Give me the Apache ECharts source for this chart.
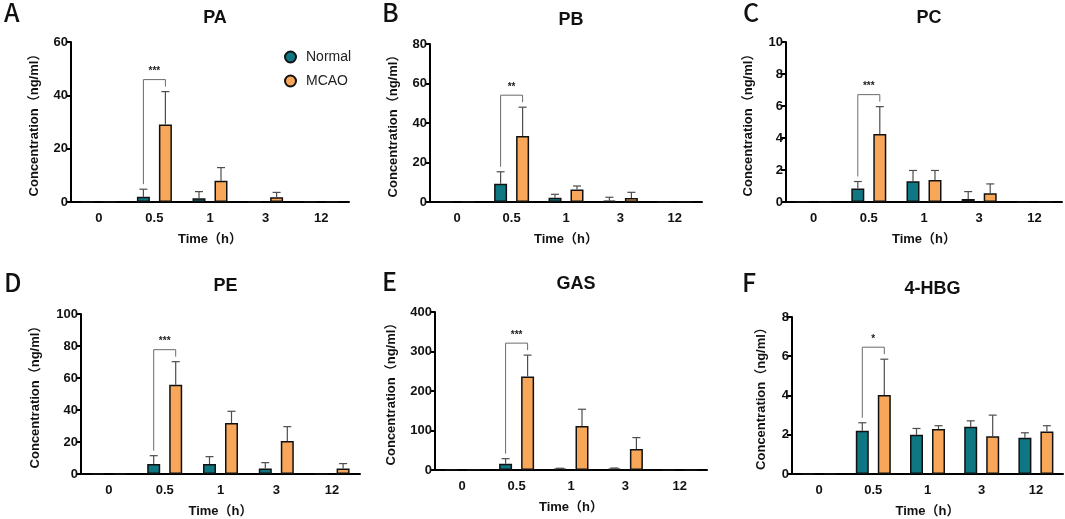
<!DOCTYPE html>
<html>
<head>
<meta charset="utf-8">
<script src="https://cdn.jsdelivr.net/npm/echarts@6/dist/echarts.min.js"></script>
<style>
  html, body { margin: 0; padding: 0; background: #fff; }
  #main { width: 1065px; height: 519px; }
</style>
</head>
<body>
<div id="main"></div>
<script>
var myChart = echarts.init(document.getElementById('main'));

// 时间点
var times = ['0', '0.5', '1', '3', '12'];

// 各成分: 均值 / 误差 (Normal, MCAO)
var paNormal = [0, 2.0, 1.4, 0, 0];
var paNormalSd = [0, 2.8, 2.5, 0, 0];
var paMcao = [0, 29.1, 8.0, 1.8, 0];
var paMcaoSd = [0, 12.3, 4.9, 1.8, 0];

var pbNormal = [0, 9.3, 2.2, 0.7, 0];
var pbNormalSd = [0, 6.0, 1.7, 1.7, 0];
var pbMcao = [0, 33.4, 6.3, 2.0, 0];
var pbMcaoSd = [0, 14.6, 1.8, 2.9, 0];

var pcNormal = [0, 0.84, 1.3, 0.19, 0];
var pcNormalSd = [0, 0.44, 0.67, 0.46, 0];
var pcMcao = [0, 4.25, 1.38, 0.54, 0];
var pcMcaoSd = [0, 1.71, 0.59, 0.59, 0];

var peNormal = [0, 6.25, 6.25, 3.5, 0];
var peNormalSd = [0, 5.2, 4.6, 3.6, 0];
var peMcao = [0, 55.8, 31.9, 20.6, 3.5];
var peMcaoSd = [0, 14.4, 7.3, 9.0, 3.0];

var gasNormal = [1.5, 16, 3.4, 3.4, 0];
var gasNormalSd = [0, 12.7, 1.0, 1.6, 0];
var gasMcao = [0.8, 236.7, 111.6, 53.3, 0];
var gasMcaoSd = [0, 54.1, 42.2, 28.7, 0];

var hbgNormal = [0, 2.2, 2.0, 2.41, 1.85];
var hbgNormalSd = [0, 0.41, 0.32, 0.3, 0.25];
var hbgMcao = [0, 4.02, 2.29, 1.92, 2.17];
var hbgMcaoSd = [0, 1.83, 0.17, 1.08, 0.29];

// 标题、坐标轴范围、显著性标记
var titles = ['PA', 'PB', 'PC', 'PE', 'GAS', '4-HBG'];
var letters = ['A', 'B', 'C', 'D', 'E', 'F'];
var yMax = [60, 80, 10, 100, 400, 8];
var yStep = [20, 20, 2, 20, 100, 2];
var stars = ['***', '**', '***', '***', '***', '*'];

var normalSets = [paNormal, pbNormal, pcNormal, peNormal, gasNormal, hbgNormal];
var normalSds = [paNormalSd, pbNormalSd, pcNormalSd, peNormalSd, gasNormalSd, hbgNormalSd];
var mcaoSets = [paMcao, pbMcao, pcMcao, peMcao, gasMcao, hbgMcao];
var mcaoSds = [paMcaoSd, pbMcaoSd, pcMcaoSd, peMcaoSd, gasMcaoSd, hbgMcaoSd];

// 布局
var panels = [
    { left: 71, top: 42, width: 278, height: 160, nameGap: 30, lx: 11, ly: 15 },
    { left: 430, top: 44, width: 272, height: 158, nameGap: 30, lx: 389, ly: 15 },
    { left: 786, top: 42, width: 276, height: 160, nameGap: 31, lx: 750, ly: 15 },
    { left: 81, top: 314, width: 279, height: 160, nameGap: 39, lx: 11, ly: 285 },
    { left: 435, top: 312, width: 272, height: 158, nameGap: 37, lx: 389, ly: 284 },
    { left: 792, top: 317, width: 271, height: 157, nameGap: 24, lx: 749, ly: 285 }
];

var FONT = '"Liberation Sans", Arial, "Noto Sans CJK SC", sans-serif';
var NORMAL_COLOR = '#0f7782';
var MCAO_COLOR = '#f7a65a';
var BAR_W = 13;
var BAR_GAP = 9;
var OFF = (BAR_W + BAR_GAP) / 2;

var grids = [], xAxes = [], yAxes = [], series = [], titleList = [], graphics = [];

function errorRender(params, api) {
    var sd = api.value(2);
    if (!sd) return;
    var dir = api.value(3) === 0 ? -1 : 1;
    var base = api.coord([api.value(0), api.value(1)]);
    var top = api.coord([api.value(0), api.value(1) + sd]);
    var x = base[0] + dir * OFF;
    var st = { stroke: '#4d4d4d', lineWidth: 1.2, fill: 'none' };
    return {
        type: 'group',
        children: [
            { type: 'line', shape: { x1: x, y1: base[1], x2: x, y2: top[1] }, style: st },
            { type: 'line', shape: { x1: x - 4, y1: top[1], x2: x + 4, y2: top[1] }, style: st }
        ]
    };
}

// 显著性括号
function makeBracket(mark) {
    return function (params, api) {
        var c = api.value(0);
        var left = api.coord([c, api.value(1)]);
        var right = api.coord([c, api.value(2)]);
        var xl = left[0] - OFF, xr = right[0] + OFF;
        var yl = left[1] - 5, yr = right[1] - 5;
        var yt = right[1] - 12;
        var st = { stroke: '#6b6b6b', lineWidth: 1, fill: 'none' };
        return {
            type: 'group',
            children: [
                { type: 'polyline', shape: { points: [[xl, yl], [xl, yt], [xr, yt], [xr, yr]] }, style: st },
                { type: 'text', x: left[0], y: yt - 3, style: {
                    text: mark, fill: '#222', font: 'bold 10px ' + FONT,
                    align: 'center', verticalAlign: 'bottom' } }
            ]
        };
    };
}

panels.forEach(function (p, i) {
    grids.push({ left: p.left, top: p.top, width: p.width, height: p.height });
    xAxes.push({
        type: 'category', gridIndex: i, data: times,
        name: 'Time（h）', nameLocation: 'middle', nameGap: 31,
        nameTextStyle: { fontFamily: FONT, fontWeight: 'bold', fontSize: 13, color: '#111' },
        axisLine: { lineStyle: { color: '#000', width: 2 } },
        axisTick: { alignWithLabel: true, length: 5, lineStyle: { color: '#000', width: 2 } },
        axisLabel: { fontFamily: FONT, fontWeight: 'bold', fontSize: 13, color: '#111', margin: 10 }
    });
    yAxes.push({
        type: 'value', gridIndex: i, min: 0, max: yMax[i], interval: yStep[i],
        name: 'Concentration（ng/ml）', nameLocation: 'middle', nameGap: p.nameGap,
        nameTextStyle: { fontFamily: FONT, fontWeight: 'bold', fontSize: 13, color: '#111' },
        axisLine: { show: true, lineStyle: { color: '#000', width: 2 } },
        axisTick: { show: true, length: 5, lineStyle: { color: '#000', width: 2 } },
        axisLabel: { fontFamily: FONT, fontWeight: 'bold', fontSize: 13, color: '#111', margin: 3 },
        splitLine: { show: false }
    });
    titleList.push({
        text: titles[i], left: p.left + p.width / 2, top: p.top - (i < 3 ? 38 : 42), textAlign: 'center',
        textStyle: { fontFamily: FONT, fontWeight: 'bold', fontSize: 18, color: '#111' }
    });
    graphics.push({
        type: 'text', left: p.lx - 7, top: p.ly - 15,
        style: { text: letters[i], font: '500 25px "Noto Sans CJK SC", sans-serif', fill: '#111' }
    });

    series.push({
        name: 'Normal', type: 'bar', xAxisIndex: i, yAxisIndex: i,
        data: normalSets[i], barWidth: BAR_W, barGap: (BAR_GAP / BAR_W * 100) + '%',
        itemStyle: { color: NORMAL_COLOR, borderColor: '#111', borderWidth: 1.5 }
    });
    series.push({
        name: 'MCAO', type: 'bar', xAxisIndex: i, yAxisIndex: i,
        data: mcaoSets[i], barWidth: BAR_W, barGap: (BAR_GAP / BAR_W * 100) + '%',
        itemStyle: { color: MCAO_COLOR, borderColor: '#111', borderWidth: 1.5 }
    });

    var errData = [];
    for (var k = 0; k < times.length; k++) {
        errData.push([k, normalSets[i][k], normalSds[i][k], 0]);
        errData.push([k, mcaoSets[i][k], mcaoSds[i][k], 1]);
    }
    series.push({
        type: 'custom', xAxisIndex: i, yAxisIndex: i, z: 5, silent: true,
        renderItem: errorRender, data: errData
    });
    series.push({
        type: 'custom', xAxisIndex: i, yAxisIndex: i, z: 6, silent: true,
        renderItem: makeBracket(stars[i]),
        data: [[1, normalSets[i][1] + normalSds[i][1], mcaoSets[i][1] + mcaoSds[i][1]]]
    });
});

option = {
    animation: false,
    backgroundColor: '#fff',
    title: titleList,
    legend: {
        data: ['Normal', 'MCAO'], orient: 'vertical', left: 279, top: 45,
        icon: 'circle', itemWidth: 11, itemHeight: 11, itemGap: 10,
        textStyle: { fontFamily: FONT, fontSize: 14, color: '#222', padding: [0, 0, 0, 5] }
    },
    grid: grids,
    xAxis: xAxes,
    yAxis: yAxes,
    graphic: graphics,
    series: series
};

myChart.setOption(option);
</script>
</body>
</html>
